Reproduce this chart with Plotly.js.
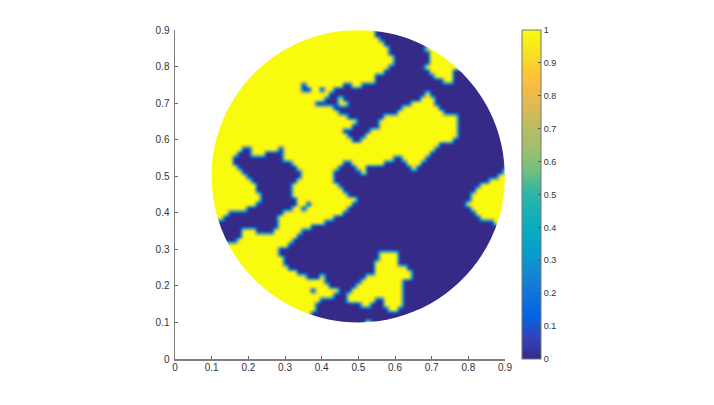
<!DOCTYPE html>
<html>
<head>
<meta charset="utf-8">
<script src="https://cdn.plot.ly/plotly-3.0.1.min.js"></script>
<style>html,body{margin:0;padding:0;background:#fff}#chart{width:714px;height:405px}
.heatmaplayer image,.hm image{filter:blur(0.8px)}</style>
</head>
<body>
<div id="chart"></div>
<script>
// Yellow (value 1) runs for each grid row, top row first; everything else has value 0.
const yellowRuns = [
[[0,35]],[[0,35]],[[0,36]],[[0,37]],
[[0,38],[47,64]],[[0,38],[48,64]],[[0,39],[48,64]],[[0,39],[48,64]],[[0,38],[47,64]],
[[0,37],[48,52]],[[0,35],[49,52]],[[0,35],[51,52]],[[0,19],[21,28],[31,32]],
[[0,19],[22,23],[25,26]],[[0,25],[47,47]],[[0,24],[28,28],[46,48]],[[0,22],[28,29],[44,48]],
[[0,26],[42,49]],[[0,27],[41,50]],[[0,29],[38,53]],[[0,31],[37,53]],[[0,30],[37,53]],
[[0,28],[35,53]],[[0,29],[34,53]],[[0,30],[33,52]],[[0,49]],
[[0,6],[9,14],[16,48]],[[0,5],[9,11],[16,47]],[[0,4],[16,39],[42,46]],
[[0,4],[18,28],[31,37],[43,45]],[[0,5],[19,27],[32,33],[44,44]],
[[0,6],[20,26],[33,33],[64,64]],[[0,7],[20,26],[63,64]],[[0,8],[19,26],[61,64]],
[[0,9],[18,27],[59,64]],[[0,9],[18,28],[58,64]],[[0,10],[18,29],[57,64]],[[0,10],[19,31],[57,64]],
[[0,9],[19,20],[22,30],[56,64]],[[0,7],[18,19],[21,29],[57,64]],[[0,3],[16,28],[58,64]],
[[0,2],[15,26],[59,64]],[[15,24],[62,64]],[[15,21],[64,64]],[[7,9],[14,19]],[[7,18]],[[6,17]],
[[0,16]],[[0,14]],[[0,14],[37,40]],[[0,15],[37,40]],[[0,15],[36,40]],[[0,16],[36,42]],
[[0,18],[36,43]],[[0,20],[24,24],[34,43]],[[0,24],[33,41]],[[0,25],[32,41]],
[[0,21],[23,27],[31,41]],[[0,26],[30,41]],[[0,23],[30,35],[38,41]],[[0,22],[33,34],[38,41]],
[[0,22],[39,40]],[[0,21]],[[0,21]],[[0,20],[34,34]]
];
const xStart = 0.1, gridStep = 0.0125, circleX = 0.5, circleY = 0.5, circleR = 0.4;
const axisTicks = [0,0.1,0.2,0.3,0.4,0.5,0.6,0.7,0.8,0.9];
const axisLabels = ['0','0.1','0.2','0.3','0.4','0.5','0.6','0.7','0.8','0.9'];
const colorTicks = [0,0.1,0.2,0.3,0.4,0.5,0.6,0.7,0.8,0.9,1];
const colorLabels = ['0','0.1','0.2','0.3','0.4','0.5','0.6','0.7','0.8','0.9','1'];
const parula = [
[0,'rgb(53,42,135)'],[0.0635,'rgb(50,67,185)'],[0.127,'rgb(3,99,225)'],[0.19,'rgb(16,113,222)'],
[0.254,'rgb(20,133,212)'],[0.317,'rgb(7,156,206)'],[0.381,'rgb(6,170,193)'],[0.444,'rgb(21,177,180)'],
[0.508,'rgb(46,183,164)'],[0.571,'rgb(113,191,128)'],[0.635,'rgb(156,191,109)'],[0.698,'rgb(183,189,100)'],
[0.762,'rgb(217,186,86)'],[0.825,'rgb(248,186,68)'],[0.873,'rgb(254,200,50)'],[0.921,'rgb(247,222,36)'],
[1,'rgb(249,251,14)']
];

const n = yellowRuns.length;
const gridX = [], gridY = [];
for (let i = 0; i < n; i++) { gridX.push(xStart + i * gridStep); gridY.push(xStart + i * gridStep); }
const z = yellowRuns.slice().reverse().map(runs => {
  const row = new Array(n).fill(0);
  runs.forEach(([a, b]) => { for (let i = a; i <= b; i++) row[i] = 1; });
  return row;
});

const k = 0.5523 * circleR, cx = circleX, cy = circleY, r = circleR;
const maskPath =
  'M0.085,0.085 L0.95,0.085 L0.95,0.95 L0.085,0.95 Z ' +
  `M${cx + r},${cy} C${cx + r},${cy + k} ${cx + k},${cy + r} ${cx},${cy + r} ` +
  `C${cx - k},${cy + r} ${cx - r},${cy + k} ${cx - r},${cy} ` +
  `C${cx - r},${cy - k} ${cx - k},${cy - r} ${cx},${cy - r} ` +
  `C${cx + k},${cy - r} ${cx + r},${cy - k} ${cx + r},${cy} Z`;

const axisCommon = {
  range: [0, 0.9], tickmode: 'array', tickvals: axisTicks, ticktext: axisLabels,
  ticks: 'inside', ticklen: 3, tickwidth: 1, tickcolor: '#666',
  showline: true, linecolor: '#808080', linewidth: 1.5, showgrid: false, zeroline: false,
  tickfont: {family: 'Liberation Sans, Arial, sans-serif', size: 10, color: '#333'},
  mirror: false
};

Plotly.newPlot('chart', [{
  type: 'heatmap', x: gridX, y: gridY, z: z, zmin: 0, zmax: 1, zsmooth: 'best',
  colorscale: parula, hoverinfo: 'skip',
  colorbar: {
    x: (522 - 175) / 330, xanchor: 'left', xpad: 0, y: 0.5, yanchor: 'middle', ypad: 0,
    thickness: 19, thicknessmode: 'pixels', len: 1, lenmode: 'fraction',
    outlinecolor: '#777', outlinewidth: 1,
    tickmode: 'array', tickvals: colorTicks, ticktext: colorLabels,
    ticks: 'inside', ticklen: 3, tickwidth: 1, tickcolor: '#555',
    tickfont: {family: 'Liberation Sans, Arial, sans-serif', size: 9, color: '#333'}
  }
}], {
  width: 714, height: 405,
  margin: {l: 175, r: 209, t: 30, b: 46, pad: 0},
  paper_bgcolor: '#fff', plot_bgcolor: '#fff',
  xaxis: Object.assign({}, axisCommon, {ticklabelstandoff: -2}),
  yaxis: Object.assign({}, axisCommon, {ticklabelstandoff: 2}),
  shapes: [{
    type: 'path', path: maskPath, xref: 'x', yref: 'y', fillcolor: '#fff', fillrule: 'evenodd',
    line: {width: 0}, layer: 'above'
  }],
  showlegend: false
}, {displayModeBar: false, staticPlot: true});
</script>
</body>
</html>
